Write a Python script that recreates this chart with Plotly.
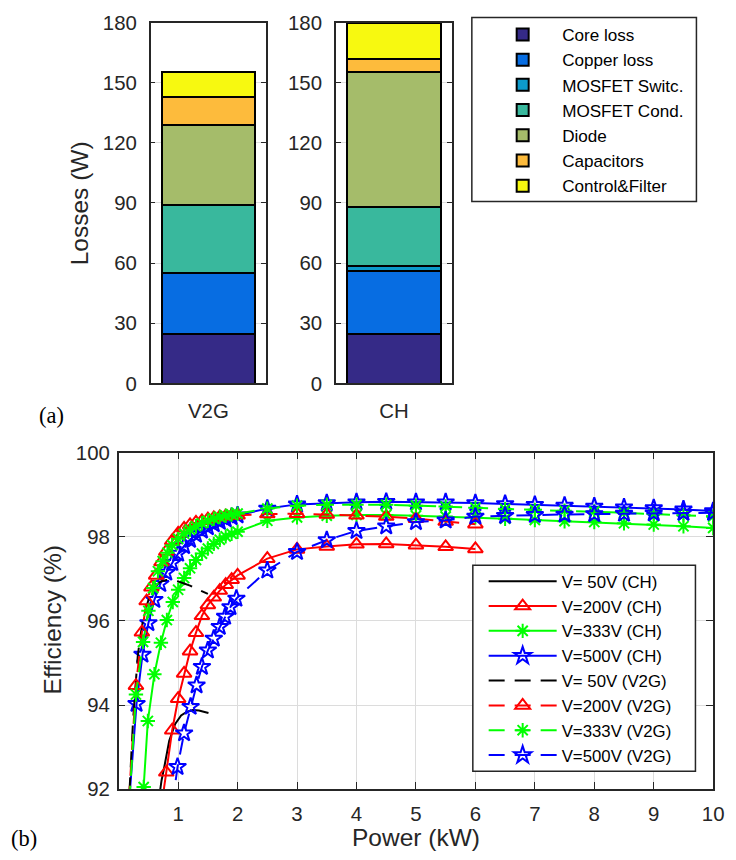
import plotly.graph_objects as go

# ---------------- (a) loss breakdown ----------------
components = ["Core loss", "Copper loss", "MOSFET Switc.", "MOSFET Cond.",
              "Diode", "Capacitors", "Control&Filter"]
v2g_losses = [25.0, 30.5, 0.0, 33.5, 40.2, 14.0, 12.3]
ch_losses = [25.0, 31.3, 2.4, 29.5, 67.3, 6.5, 18.0]
bar_colors = ["#352A87", "#076DE2", "#0C9ACB", "#39B89D",
              "#A5BC6A", "#FDBB3C", "#F7F910"]

# ---------------- (b) efficiency curves ----------------
ch50_x = [0.68, 0.72, 0.77, 0.85, 0.95, 1.05, 1.15, 1.25, 1.35, 1.45, 1.51]
ch50_y = [91.8, 92.2, 92.55, 93.15, 93.55, 93.75, 93.84, 93.88, 93.87, 93.84, 93.81]

ch200_x = [0.7, 0.8, 0.9, 1.0, 1.1, 1.2, 1.3, 1.4, 1.5, 1.6, 1.7, 1.8, 1.9, 2.0,
           2.5, 3.0, 3.5, 4.0, 4.5, 5.0, 5.5, 6.0]
ch200_y = [91.4, 92.4, 93.4, 94.15, 94.75, 95.28, 95.72, 96.12, 96.38, 96.56, 96.72,
           96.86, 96.98, 97.08, 97.48, 97.7, 97.77, 97.82, 97.83, 97.8, 97.76, 97.71]

ch333_x = [0.42, 0.49, 0.6, 0.71, 0.81, 0.91, 1.0, 1.1, 1.2, 1.3, 1.4, 1.5, 1.6, 1.7,
           1.8, 1.9, 2.0, 2.5, 3.0, 3.5, 4.0, 4.5, 5.0, 5.5, 6.0, 6.5, 7.0, 7.5, 8.0,
           8.5, 9.0, 9.5, 10.0]
ch333_y = [92.05, 93.62, 94.73, 95.48, 96.02, 96.45, 96.74, 97.02, 97.25, 97.45, 97.6,
           97.72, 97.83, 97.93, 98.01, 98.07, 98.12, 98.38, 98.46, 98.5, 98.52, 98.52,
           98.5, 98.48, 98.46, 98.43, 98.4, 98.37, 98.35, 98.32, 98.29, 98.25, 98.21]

ch500_x = [0.17, 0.3, 0.4, 0.5, 0.6, 0.7, 0.8, 0.9, 1.0, 1.1, 1.2, 1.3, 1.4, 1.5, 1.6,
           1.7, 1.8, 1.9, 2.0, 2.5, 3.0, 3.5, 4.0, 4.5, 5.0, 5.5, 6.0, 6.5, 7.0, 7.5,
           8.0, 8.5, 9.0, 9.5, 10.0]
ch500_y = [91.6, 94.03, 95.2, 95.95, 96.5, 96.88, 97.15, 97.38, 97.6, 97.78, 97.93,
           98.05, 98.15, 98.23, 98.3, 98.36, 98.42, 98.47, 98.51, 98.67, 98.77, 98.8,
           98.82, 98.83, 98.82, 98.82, 98.8, 98.78, 98.76, 98.74, 98.72, 98.7, 98.68,
           98.65, 98.61]

v2g50_x = [0.18, 0.21, 0.24, 0.28, 0.32, 0.36, 0.42, 0.5, 0.6, 0.7, 0.8, 0.9, 1.0,
           1.1, 1.2, 1.3, 1.4, 1.5]
v2g50_y = [91.9, 92.95, 93.6, 94.4, 95.15, 95.6, 96.1, 96.5, 96.8, 96.93, 96.97, 96.97,
           96.94, 96.89, 96.84, 96.77, 96.7, 96.64]

v2g200_x = [0.17, 0.29, 0.39, 0.47, 0.55, 0.63, 0.72, 0.8, 0.9, 1.0, 1.1, 1.2, 1.3,
            1.4, 1.5, 1.6, 1.7, 1.8, 1.9, 2.0, 2.5, 3.0, 3.5, 4.0, 4.5, 5.0, 5.5, 6.0]
v2g200_y = [91.7, 94.46, 95.73, 96.47, 96.8, 97.08, 97.4, 97.65, 97.9, 98.08, 98.2,
            98.28, 98.34, 98.38, 98.42, 98.45, 98.47, 98.49, 98.5, 98.51, 98.54, 98.55,
            98.53, 98.51, 98.48, 98.43, 98.36, 98.3]

v2g333_x = [0.18, 0.29, 0.41, 0.5, 0.58, 0.66, 0.74, 0.82, 0.9, 1.0, 1.1, 1.2, 1.3,
            1.4, 1.5, 1.6, 1.7, 1.8, 1.9, 2.0, 2.5, 3.0, 3.5, 4.0, 4.5, 5.0, 5.5, 6.0,
            6.5, 7.0, 7.5, 8.0, 8.5, 9.0, 9.5, 10.0]
v2g333_y = [91.7, 94.25, 95.5, 96.24, 96.78, 97.18, 97.42, 97.62, 97.8, 97.95, 98.07,
            98.17, 98.25, 98.32, 98.38, 98.43, 98.47, 98.5, 98.53, 98.55, 98.67, 98.74,
            98.76, 98.76, 98.76, 98.74, 98.72, 98.69, 98.66, 98.64, 98.62, 98.6, 98.57,
            98.54, 98.51, 98.48]

v2g500_x = [0.9, 0.99, 1.1, 1.21, 1.31, 1.4, 1.5, 1.6, 1.7, 1.79, 1.88, 1.98, 2.5, 3.0,
            3.5, 4.0, 4.5, 5.0, 5.5, 6.0, 6.5, 7.0, 7.5, 8.0, 8.5, 9.0, 9.5, 10.0]
v2g500_y = [91.6, 92.53, 93.33, 93.96, 94.47, 94.91, 95.3, 95.58, 95.86, 96.1, 96.33,
            96.53, 97.2, 97.64, 97.92, 98.14, 98.25, 98.35, 98.39, 98.48, 98.5, 98.52,
            98.53, 98.54, 98.55, 98.56, 98.57, 98.57]

xticks_b = [1, 2, 3, 4, 5, 6, 7, 8, 9, 10]

FONT = "Liberation Sans, Arial, sans-serif"
SERIF = "Liberation Serif, Times New Roman, serif"
TXT = "#262626"

fig = go.Figure()

for i, name in enumerate(components):
    fig.add_trace(go.Bar(x=["V2G"], y=[v2g_losses[i]], name=name, width=1.0,
                         marker=dict(color=bar_colors[i], line=dict(color="black", width=2)),
                         xaxis="x", yaxis="y", legend="legend", showlegend=True))
for i, name in enumerate(components):
    fig.add_trace(go.Bar(x=["CH"], y=[ch_losses[i]], name=name, width=1.0,
                         marker=dict(color=bar_colors[i], line=dict(color="black", width=2)),
                         xaxis="x2", yaxis="y2", showlegend=False))

DASH = "16px,10px"
series = [
    ("V= 50V (CH)", ch50_x, ch50_y, "black", "solid", None, 0),
    ("V=200V (CH)", ch200_x, ch200_y, "#FF0000", "solid", "triangle-up-open", 13),
    ("V=333V (CH)", ch333_x, ch333_y, "#00FF00", "solid", "asterisk-open", 12),
    ("V=500V (CH)", ch500_x, ch500_y, "#0000FF", "solid", "star-open", 13),
    ("V= 50V (V2G)", v2g50_x, v2g50_y, "black", DASH, None, 0),
    ("V=200V (V2G)", v2g200_x, v2g200_y, "#FF0000", DASH, "triangle-up-open", 13),
    ("V=333V (V2G)", v2g333_x, v2g333_y, "#00FF00", DASH, "asterisk-open", 12),
    ("V=500V (V2G)", v2g500_x, v2g500_y, "#0000FF", DASH, "star-open", 13),
]
for name, xs, ys, col, dash, sym, size in series:
    kw = dict(x=xs, y=ys, name=name, xaxis="x3", yaxis="y3", legend="legend2",
              line=dict(color=col, width=2, dash=dash))
    if sym:
        kw["mode"] = "lines+markers"
        kw["marker"] = dict(symbol=sym, size=size, color=col,
                            line=dict(color=col, width=2))
    else:
        kw["mode"] = "lines"
    fig.add_trace(go.Scatter(**kw))

W, H = 736, 860
# page pixels -> paper fractions (slight vertical scale/offset of the capture compensated)
SX, SY, OY = 1.0, 0.975, 10.4
def px(x):
    return min(x / SX / W, 1.0)
def py(y):
    return max(1 - (y - OY) / SY / H, 0.0)

axis_common = dict(showline=True, linecolor=TXT, linewidth=1.5, mirror="allticks",
                   ticks="inside", tickcolor=TXT, tickfont=dict(family=FONT, size=20.4, color=TXT),
                   zeroline=False)
cat_axis = dict(range=[-0.622, 0.622], type="category", showline=True, linecolor=TXT,
                linewidth=1.5, mirror=True, ticks="", ticklabelstandoff=8,
                tickfont=dict(family=FONT, size=20.4, color=TXT), showgrid=False)

fig.update_layout(
    width=W, height=H, margin=dict(l=0, r=0, t=0, b=0),
    paper_bgcolor="white", plot_bgcolor="white",
    barmode="stack", bargap=0,
    font=dict(family=FONT, color=TXT),
    xaxis=dict(domain=[px(153), px(270)], **cat_axis),
    yaxis=dict(domain=[py(383), py(22)], range=[0, 180], dtick=30, ticklen=5,
               ticklabelstandoff=8, showgrid=True, gridcolor="#e0e0e0", **axis_common),
    xaxis2=dict(domain=[px(341), px(459)], anchor="y2", **cat_axis),
    yaxis2=dict(domain=[py(383), py(22)], range=[0, 180], dtick=30, ticklen=5,
                ticklabelstandoff=8, anchor="x2", showgrid=True, gridcolor="#e0e0e0",
                **axis_common),
    xaxis3=dict(domain=[px(120.5), px(724)], range=[0, 10], tickvals=xticks_b, anchor="y3",
                ticklen=7, ticklabelstandoff=6, showgrid=True, gridcolor="#dcdcdc",
                **axis_common),
    yaxis3=dict(domain=[py(789), py(452.3)], range=[92, 100], dtick=2, anchor="x3",
                ticklen=7, ticklabelstandoff=3, showgrid=True, gridcolor="#dcdcdc",
                **axis_common),
    legend=dict(x=px(490.5), y=py(16.2), xanchor="left", yanchor="top", traceorder="normal",
                bgcolor="rgba(0,0,0,0)", borderwidth=0, itemwidth=69,
                font=dict(family=FONT, size=17.1, color="black")),
    legend2=dict(x=px(491), y=py(563.5), xanchor="left", yanchor="top", traceorder="normal",
                 bgcolor="rgba(0,0,0,0)", borderwidth=0, itemwidth=68,
                 font=dict(family=FONT, size=16.8, color="black")),
    shapes=[
        dict(type="rect", xref="paper", yref="paper", x0=px(479), x1=px(707),
             y0=py(201), y1=py(17), line=dict(color=TXT, width=1.5), fillcolor="white",
             layer="above"),
        dict(type="rect", xref="paper", yref="paper", x0=px(480), x1=px(706),
             y0=py(771), y1=py(565), line=dict(color=TXT, width=1.5), fillcolor="white",
             layer="above"),
    ],
    annotations=[
        dict(text="Losses (W)", x=px(81.5), y=py(202.5), xref="paper", yref="paper",
             xanchor="center", yanchor="middle", textangle=-90, showarrow=False,
             font=dict(family=FONT, size=24.5, color=TXT)),
        dict(text="Efficiency (%)", x=px(53), y=py(620), xref="paper", yref="paper",
             xanchor="center", yanchor="middle", textangle=-90, showarrow=False,
             font=dict(family=FONT, size=24.5, color=TXT)),
        dict(text="Power (kW)", x=px(422), y=py(837), xref="paper", yref="paper",
             xanchor="center", yanchor="middle", showarrow=False,
             font=dict(family=FONT, size=24.5, color=TXT)),
        dict(text="(a)", x=px(52), y=py(415), xref="paper", yref="paper",
             xanchor="center", yanchor="middle", showarrow=False,
             font=dict(family=SERIF, size=22.4, color="black")),
        dict(text="(b)", x=px(24), y=py(838), xref="paper", yref="paper",
             xanchor="center", yanchor="middle", showarrow=False,
             font=dict(family=SERIF, size=22.4, color="black")),
    ],
)

fig.write_html("out.html", config={"displayModeBar": False},
               post_script="document.body.style.margin='0px';")
